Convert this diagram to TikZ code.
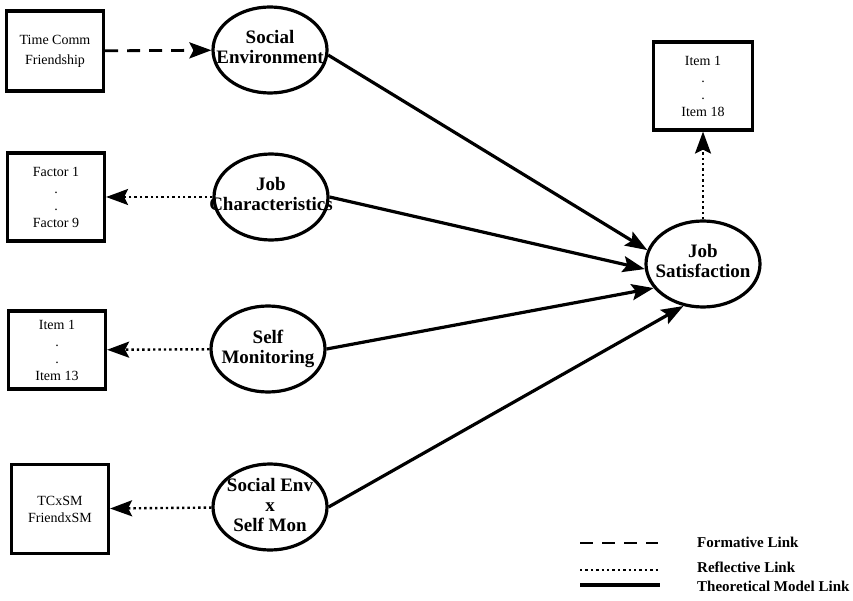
\documentclass[tikz,border=0pt]{standalone}
\usepackage{fontspec}
\setmainfont{Liberation Serif}
\usetikzlibrary{arrows.meta,shapes.geometric}
\tikzset{
  latent/.style={draw, ellipse, line width=3.2pt, minimum width=114pt, minimum height=86pt, inner sep=0pt, font=\fontsize{19}{20}\selectfont\bfseries},
  indic/.style={draw, rectangle, line width=3.2pt, minimum width=97pt, inner sep=2pt, align=center, font=\fontsize{14}{17}\selectfont},
  tip/.style={-{Stealth[length=22pt,width=16pt,inset=4pt]}},
  dashlink/.style={line width=2.8pt, dash pattern=on 13pt off 9pt},
  dotlink/.style={line width=2.4pt, dash pattern=on 2.4pt off 3pt},
  solidlink/.style={line width=3.2pt},
  key/.style={anchor=west, inner sep=0pt, font=\fontsize{15}{16}\selectfont\bfseries},
}
\newcommand{\lv}[1]{\makebox[0pt]{\begin{tabular}{@{}c@{}}#1\end{tabular}}}

\begin{document}
\begin{tikzpicture}[x=1pt,y=-1pt]
  \useasboundingbox (0,0) rectangle (853,601);
  % indicators and constructs
  \node[indic, minimum height=80pt] (tc) at (55,51) {Time Comm\\[3pt]Friendship};
  \node[latent] (se) at (270,50) {\lv{Social\\Environment}};
  \node[indic, minimum height=88pt] (fac) at (56,197) {Factor 1\\.\\.\\Factor 9};
  \node[latent] (jc) at (271,197) {\lv{Job\\Characteristics}};
  \node[indic, minimum height=78pt] (it13) at (57,350) {Item 1\\.\\.\\Item 13};
  \node[latent] (sm) at (268,349) {\lv{Self\\Monitoring}};
  \node[indic, minimum height=89pt] (tcsm) at (60,509) {TCxSM\\FriendxSM};
  \node[latent] (sxs) at (270,507) {\lv{Social Env\\x\\Self Mon}};
  \node[indic, minimum height=88pt, minimum width=99pt] (it18) at (703,86) {Item 1\\.\\.\\Item 18};
  \node[latent] (js) at (703,264) {\lv{Job\\Satisfaction}};

  % links
  \draw[dashlink, tip] (tc) -- (se);
  \draw[dotlink, tip] (jc) -- (fac);
  \draw[dotlink, tip] (sm) -- (it13);
  \draw[dotlink, tip] (sxs) -- (tcsm);
  \draw[dotlink, tip] (js) -- (it18);
  \draw[solidlink, tip] (se.355) -- (js.166);
  \draw[solidlink, tip] (jc.0) -- (js.185);
  \draw[solidlink, tip] (sm.0) -- (js.206);
  \draw[solidlink, tip] (sxs.0) -- (js.245);

  % legend
  \coordinate (fa) at (580,543);
  \coordinate (fb) at (658,543);
  \coordinate (ra) at (580,570);
  \coordinate (rb) at (658,570);
  \coordinate (ta) at (580,585);
  \coordinate (tb) at (660,585);
  \draw[dashlink] (fa) -- (fb);
  \draw[dotlink] (ra) -- (rb);
  \draw[solidlink, line width=3.6pt] (ta) -- (tb);
  \node[key] (kf) at (697,542) {Formative Link};
  \node[key] (kr) at (697,567) {Reflective Link};
  \node[key] (kt) at (697,586) {Theoretical Model Link};
\end{tikzpicture}
\end{document}
